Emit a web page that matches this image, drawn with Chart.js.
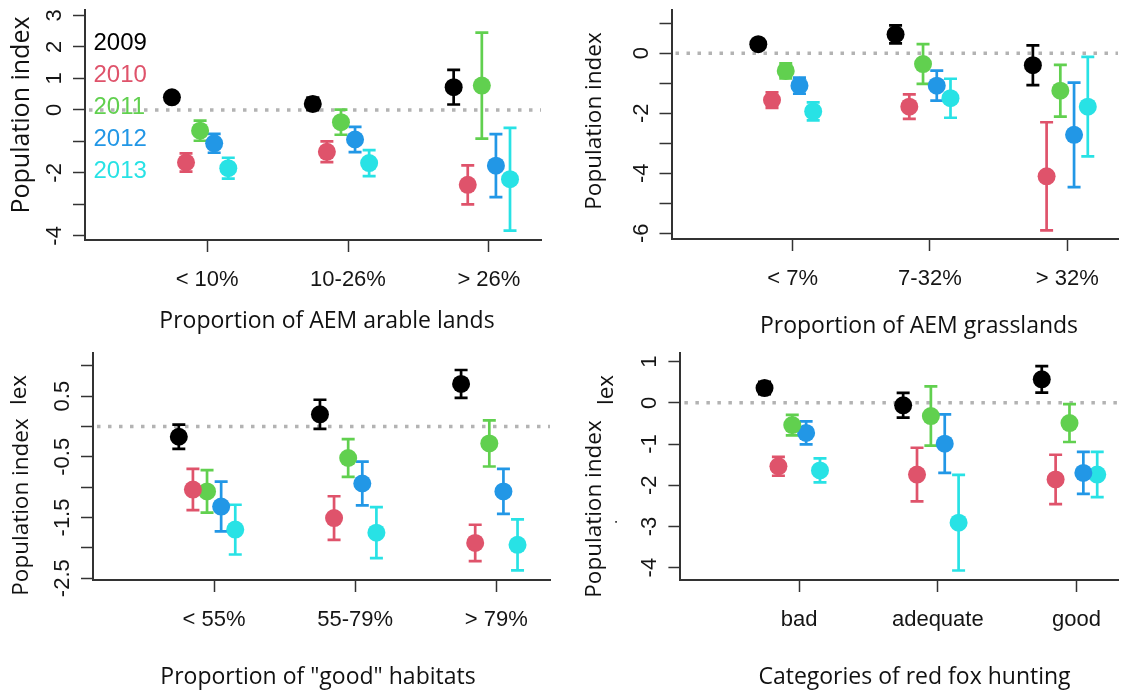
<!DOCTYPE html>
<html>
<head>
<meta charset="utf-8">
<title>Population index by landscape category</title>
<script src="https://cdn.jsdelivr.net/npm/chart.js@4.4.1/dist/chart.umd.min.js"></script>
<style>
    html, body { margin: 0; padding: 0; background: #ffffff; }
    #page { position: relative; width: 1127px; height: 694px; overflow: hidden; }
    #page canvas { position: absolute; }
</style>
</head>
<body>
<div id="page">
    <canvas id="chart-arable"></canvas>
    <canvas id="chart-grass"></canvas>
    <canvas id="chart-habitat"></canvas>
    <canvas id="chart-hunting"></canvas>
</div>
<script>
// Years / colours (R 4 default palette)
const years = ['2009', '2010', '2011', '2012', '2013'];
const yearColors = ['#000000', '#DF536B', '#61D04F', '#2297E6', '#28E2E5'];
const yearOffsets = [-0.25, -0.15, -0.05, 0.05, 0.15];

// Panel 1: AEM arable lands (rows = years, cols = categories)
const arableCats = ['< 10%', '10-26%', '> 26%'];
const arableMean = [
    [0.40, 0.19, 0.72],
    [-1.67, -1.33, -2.38],
    [-0.66, -0.39, 0.77],
    [-1.06, -0.94, -1.77],
    [-1.85, -1.69, -2.20]
];
const arableErr = [
    [0.12, 0.20, 0.55],
    [0.29, 0.33, 0.62],
    [0.32, 0.40, 1.68],
    [0.30, 0.40, 1.00],
    [0.33, 0.41, 1.63]
];
const arableYTicks = [3, 2, 1, 0, -1, -2, -3, -4];
const arableYShown = [3, 2, 1, 0, -2, -4];

// Panel 2: AEM grasslands
const grassCats = ['< 7%', '7-32%', '> 32%'];
const grassMean = [
    [0.30, 0.63, -0.40],
    [-1.56, -1.78, -4.10],
    [-0.59, -0.36, -1.25],
    [-1.08, -1.08, -2.72],
    [-1.94, -1.50, -1.78]
];
const grassErr = [
    [0.12, 0.30, 0.66],
    [0.26, 0.41, 1.80],
    [0.25, 0.66, 0.86],
    [0.27, 0.50, 1.74],
    [0.30, 0.65, 1.66]
];
const grassYTicks = [1, 0, -1, -2, -3, -4, -5, -6];
const grassYShown = [0, -2, -4, -6];

// Panel 3: "good" habitats
const habitatCats = ['< 55%', '55-79%', '> 79%'];
const habitatMean = [
    [-0.17, 0.20, 0.70],
    [-1.04, -1.51, -1.92],
    [-1.07, -0.52, -0.28],
    [-1.32, -0.94, -1.07],
    [-1.70, -1.75, -1.95]
];
const habitatErr = [
    [0.20, 0.24, 0.23],
    [0.34, 0.36, 0.30],
    [0.35, 0.31, 0.38],
    [0.41, 0.36, 0.37],
    [0.41, 0.42, 0.42]
];
const habitatYTicks = [1, 0.5, 0, -0.5, -1, -1.5, -2, -2.5];
const habitatYShown = [0.5, -0.5, -1.5, -2.5];

// Panel 4: red fox hunting
const huntCats = ['bad', 'adequate', 'good'];
const huntMean = [
    [0.36, -0.06, 0.57],
    [-1.54, -1.74, -1.86],
    [-0.54, -0.32, -0.49],
    [-0.73, -0.99, -1.70],
    [-1.64, -2.91, -1.74]
];
const huntErr = [
    [0.15, 0.30, 0.32],
    [0.23, 0.65, 0.60],
    [0.25, 0.72, 0.46],
    [0.28, 0.71, 0.51],
    [0.29, 1.16, 0.55]
];
const huntYTicks = [1, 0, -1, -2, -3, -4];
const huntYShown = [1, 0, -1, -2, -3, -4];

const fontNarrow = "'Liberation Sans Narrow', 'Arial Narrow', 'Liberation Sans', sans-serif";
const fontTitle = "'Open Sans', 'Noto Sans', sans-serif";
const axisColor = '#333333';
const tickTextColor = '#151515';

function buildDatasets(means, errs) {
    return years.map((year, i) => ({
        label: year,
        data: means[i].map((m, c) => ({ x: c + 1 + yearOffsets[i], y: m })),
        errors: errs[i],
        backgroundColor: yearColors[i],
        borderWidth: 0,
        pointRadius: 9,
        pointHoverRadius: 9
    }));
}

// dotted reference line at 0
const zeroLine = {
    id: 'zeroLine',
    beforeDatasetsDraw(chart) {
        const { ctx, chartArea, scales } = chart;
        const y0 = scales.y.getPixelForValue(0);
        ctx.save();
        ctx.strokeStyle = '#b3b3b3';
        ctx.lineWidth = 3.5;
        ctx.setLineDash([3.5, 7.5]);
        ctx.beginPath();
        ctx.moveTo(chartArea.left + 4, y0);
        ctx.lineTo(chartArea.right, y0);
        ctx.stroke();
        ctx.restore();
    }
};

// error bars with caps, drawn under the points
const errorBars = {
    id: 'errorBars',
    beforeDatasetsDraw(chart) {
        const { ctx, scales } = chart;
        ctx.save();
        ctx.lineWidth = 2.7;
        chart.data.datasets.forEach((ds, i) => {
            const meta = chart.getDatasetMeta(i);
            ctx.strokeStyle = ds.backgroundColor;
            meta.data.forEach((pt, j) => {
                const v = ds.data[j].y;
                const e = ds.errors[j];
                const top = scales.y.getPixelForValue(v + e);
                const bot = scales.y.getPixelForValue(v - e);
                ctx.beginPath();
                ctx.moveTo(pt.x, top); ctx.lineTo(pt.x, bot);
                ctx.moveTo(pt.x - 6.5, top); ctx.lineTo(pt.x + 6.5, top);
                ctx.moveTo(pt.x - 6.5, bot); ctx.lineTo(pt.x + 6.5, bot);
                ctx.stroke();
            });
        });
        ctx.restore();
    }
};

// rotated y tick labels (R style, las = 0)
const yLabels = {
    id: 'yLabels',
    afterDraw(chart, args, opts) {
        const { ctx, chartArea, scales } = chart;
        ctx.save();
        ctx.fillStyle = tickTextColor;
        ctx.font = `22px ${fontNarrow}`;
        ctx.textAlign = 'center';
        ctx.textBaseline = 'alphabetic';
        scales.y.ticks.forEach(t => {
            if (!opts.shown.includes(t.value)) return;
            ctx.save();
            ctx.translate(chartArea.left - 24, scales.y.getPixelForValue(t.value));
            ctx.rotate(-Math.PI / 2);
            ctx.fillText(String(t.value), 0, 0);
            ctx.restore();
        });
        ctx.restore();
    }
};

// axis titles and stray text fragments
const panelText = {
    id: 'panelText',
    afterDraw(chart, args, opts) {
        const { ctx } = chart;
        (opts.texts || []).forEach(t => {
            ctx.save();
            ctx.fillStyle = '#111';
            ctx.font = `${t.size}px ${fontTitle}`;
            ctx.textAlign = 'center';
            ctx.textBaseline = 'alphabetic';
            ctx.translate(t.x, t.y);
            if (t.rotate) ctx.rotate(-Math.PI / 2);
            ctx.fillText(t.text, 0, 0);
            ctx.restore();
        });
    }
};

// coloured year legend inside panel 1
const yearLegend = {
    id: 'yearLegend',
    afterDraw(chart, args, opts) {
        if (!opts.display) return;
        const { ctx, chartArea } = chart;
        ctx.save();
        ctx.font = `24px ${fontNarrow}`;
        ctx.textAlign = 'left';
        ctx.textBaseline = 'middle';
        years.forEach((y, i) => {
            ctx.fillStyle = yearColors[i];
            ctx.fillText(y, chartArea.left + 8.5, chartArea.top + 33.5 + i * 32);
        });
        ctx.restore();
    }
};

function makeChart(id, panel) {
    const canvas = document.getElementById(id);
    canvas.width = panel.box.w;
    canvas.height = panel.box.h;
    canvas.style.left = panel.box.left + 'px';
    canvas.style.top = panel.box.top + 'px';

    new Chart(canvas, {
        type: 'scatter',
        data: { datasets: buildDatasets(panel.means, panel.errs) },
        options: {
            responsive: false,
            animation: false,
            devicePixelRatio: 1,
            layout: {
                padding: { left: 0, top: panel.area.top, right: panel.box.w - panel.area.right, bottom: 0 }
            },
            scales: {
                x: {
                    type: 'linear',
                    min: panel.xRange[0],
                    max: panel.xRange[1],
                    afterBuildTicks: s => { s.ticks = panel.cats.map((c, i) => ({ value: i + 1 })); },
                    afterFit: s => { s.height = panel.box.h - panel.area.bottom; },
                    ticks: {
                        callback: v => panel.cats[Math.round(v) - 1],
                        font: { family: fontNarrow, size: 22 },
                        color: tickTextColor,
                        padding: 15,
                        maxRotation: 0,
                        autoSkip: false
                    },
                    grid: { drawOnChartArea: false, drawTicks: true, tickLength: 12, color: axisColor, tickWidth: 1.5 },
                    border: { display: true, color: axisColor, width: 2 }
                },
                y: {
                    type: 'linear',
                    min: panel.yRange[0],
                    max: panel.yRange[1],
                    afterBuildTicks: s => { s.ticks = panel.yTicks.map(v => ({ value: v })); },
                    afterFit: s => { s.width = panel.area.left; },
                    ticks: { display: false },
                    grid: { drawOnChartArea: false, drawTicks: true, tickLength: 12, color: axisColor, tickWidth: 1.5 },
                    border: { display: true, color: axisColor, width: 2 }
                }
            },
            plugins: {
                legend: { display: false },
                tooltip: { enabled: false },
                yLabels: { shown: panel.yShown },
                panelText: { texts: panel.texts },
                yearLegend: { display: !!panel.legend }
            }
        },
        plugins: [zeroLine, errorBars, yLabels, panelText, yearLegend]
    });
}

makeChart('chart-arable', {
    box: { left: 0, top: 0, w: 560, h: 340 },
    area: { left: 85, right: 541, top: 10, bottom: 240 },
    xRange: [0.133, 3.37], yRange: [-4.13, 3.17],
    cats: arableCats, means: arableMean, errs: arableErr,
    yTicks: arableYTicks, yShown: arableYShown,
    legend: true,
    texts: [
        { text: 'Population index', x: 28.5, y: 115, size: 25, rotate: true },
        { text: 'Proportion of AEM arable lands', x: 327, y: 328, size: 23 }
    ]
});

makeChart('chart-grass', {
    box: { left: 560, top: 0, w: 567, h: 340 },
    area: { left: 111.5, right: 567, top: 10, bottom: 239 },
    xRange: [0.118, 3.37], yRange: [-6.19, 1.44],
    cats: grassCats, means: grassMean, errs: grassErr,
    yTicks: grassYTicks, yShown: grassYShown,
    texts: [
        { text: 'Population index', x: 41, y: 121, size: 22.5, rotate: true },
        { text: 'Proportion of AEM grasslands', x: 359, y: 333, size: 23 }
    ]
});

makeChart('chart-habitat', {
    box: { left: 0, top: 340, w: 560, h: 354 },
    area: { left: 93, right: 550, top: 13, bottom: 240 },
    xRange: [0.142, 3.38], yRange: [-2.53, 1.21],
    cats: habitatCats, means: habitatMean, errs: habitatErr,
    yTicks: habitatYTicks, yShown: habitatYShown,
    texts: [
        { text: 'Population index', x: 28, y: 167, size: 22.5, rotate: true },
        { text: 'lex', x: 26, y: 50, size: 22.5, rotate: true },
        { text: 'Proportion of "good" habitats', x: 318, y: 344, size: 23 }
    ]
});

makeChart('chart-hunting', {
    box: { left: 560, top: 340, w: 567, h: 354 },
    area: { left: 120.4, right: 567, top: 13, bottom: 240 },
    xRange: [0.143, 3.30], yRange: [-4.30, 1.21],
    cats: huntCats, means: huntMean, errs: huntErr,
    yTicks: huntYTicks, yShown: huntYShown,
    texts: [
        { text: 'Population index', x: 41, y: 169, size: 22.5, rotate: true },
        { text: 'lex', x: 53, y: 50, size: 22.5, rotate: true },
        { text: '.', x: 57, y: 182, size: 14, rotate: true },
        { text: 'Categories of red fox hunting', x: 354.5, y: 344, size: 23 }
    ]
});
</script>
</body>
</html>
